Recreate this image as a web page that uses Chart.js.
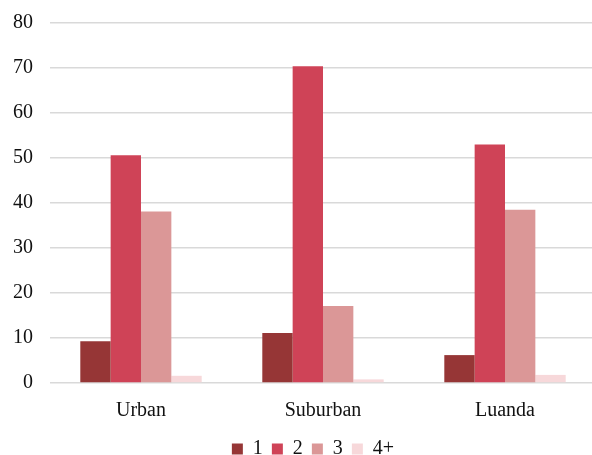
<!DOCTYPE html>
<html>
<head>
<meta charset="utf-8">
<script src="https://cdn.jsdelivr.net/npm/chart.js@4/dist/chart.umd.min.js"></script>
<style>
  html, body { margin: 0; padding: 0; background: #fff; overflow: hidden; }
  #wrap { width: 592px; height: 455px; overflow: hidden; }
</style>
</head>
<body>
<div id="wrap"><canvas id="c" width="596" height="455"></canvas></div>
<script>
// Household size groups by area
const categories = ['Urban', 'Suburban', 'Luanda'];
const seriesNames = ['1', '2', '3', '4+'];
const size1 = [9.3, 11.1, 6.2];
const size2 = [50.6, 70.4, 53.0];
const size3 = [38.1, 17.1, 38.5];
const size4plus = [1.6, 0.8, 1.8];
const yTicks = [0, 10, 20, 30, 40, 50, 60, 70, 80];

const colors = ['#963636', '#cf4357', '#db9797', '#f7d8da'];
const values = [size1, size2, size3, size4plus];

const font = { family: '"Liberation Serif", "Times New Roman", serif', size: 20 };

// Centre the legend row under the plot area rather than the whole canvas
const legendShift = {
  id: 'legendShift',
  afterLayout(chart) {
    const lg = chart.legend;
    if (!lg) return;
    lg.left += 30;
    lg.adjustHitBoxes();
  }
};

new Chart(document.getElementById('c'), {
  type: 'bar',
  data: {
    labels: categories,
    datasets: seriesNames.map((name, i) => ({
      label: name,
      data: values[i],
      backgroundColor: colors[i],
      borderWidth: 0,
      categoryPercentage: 0.667,
      barPercentage: 1.0
    }))
  },
  plugins: [legendShift],
  options: {
    responsive: false,
    animation: false,
    devicePixelRatio: 1,
    layout: { padding: { top: 23, left: 0, right: 0, bottom: -14 } },
    plugins: {
      tooltip: { enabled: false },
      legend: {
        position: 'bottom',
        labels: {
          boxWidth: 11,
          boxHeight: 11,
          padding: 9,
          color: '#111',
          font: font
        }
      }
    },
    scales: {
      x: {
        afterFit: (scale) => { scale.height = 47; scale.paddingLeft = 0; scale.paddingRight = 0; },
        grid: { display: false, drawTicks: false },
        border: { display: false },
        ticks: { color: '#111', font: font, padding: 16 }
      },
      y: {
        min: 0,
        max: 80,
        afterBuildTicks: (scale) => { scale.ticks = yTicks.map(v => ({ value: v })); },
        afterFit: (scale) => { scale.width = 50; scale.paddingTop = 0; scale.paddingBottom = 0; },
        grid: { color: '#d9d9d9', lineWidth: 1.5, drawTicks: false },
        border: { display: false },
        ticks: { color: '#111', font: font, padding: 17 }
      }
    }
  }
});
</script>
</body>
</html>
